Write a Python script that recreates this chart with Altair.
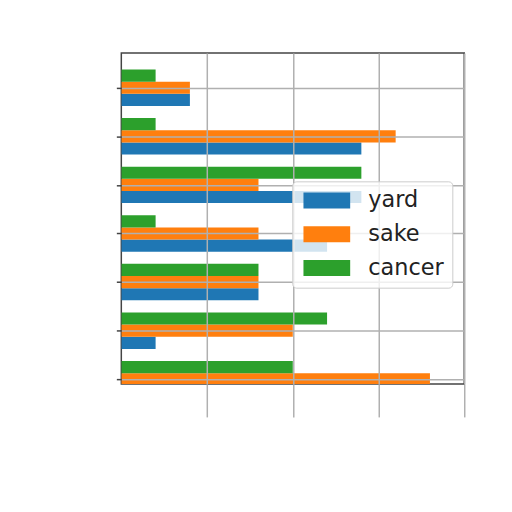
import altair as alt
import pandas as pd

# categories from bottom (0) to top (6)
categories = [0, 1, 2, 3, 4, 5, 6]
yard = [0, 2, 8, 12, 14, 14, 4]
sake = [18, 10, 8, 8, 8, 16, 4]
cancer = [10, 12, 8, 2, 14, 2, 2]
series = ["yard", "sake", "cancer"]
offsets = [-0.25, 0.0, 0.25]
colors = ["#1f77b4", "#ff7f0e", "#2ca02c"]
x_ticks = [5, 10, 15, 20]

rows = []
for name, off, vals in zip(series, offsets, [yard, sake, cancer]):
    for c, v in zip(categories, vals):
        rows.append({"series": name, "cat": c, "off": off, "value": v})
df = pd.DataFrame(rows)

grid_color = "#b0b0b0"

chart = alt.Chart(df).transform_calculate(
    zero="0",
    y0="datum.cat + datum.off - 0.125",
    y1="datum.cat + datum.off + 0.125",
).mark_rect(clip=True).encode(
    x=alt.X("zero:Q",
            scale=alt.Scale(domain=[0, 20], nice=False),
            axis=alt.Axis(values=x_ticks, labels=False, title=None, domain=False,
                          tickSize=33, tickColor=grid_color, tickWidth=1.5,
                          grid=True, gridColor=grid_color, gridWidth=1.5, zindex=1)),
    x2="value:Q",
    y=alt.Y("y0:Q",
            scale=alt.Scale(domain=[-0.1, 6.7125], nice=False, zero=False),
            axis=alt.Axis(values=categories, labels=False, title=None, domain=False,
                          tickSize=5, tickColor="#444444", tickWidth=1.5,
                          grid=True, gridColor=grid_color, gridWidth=1.5, zindex=1)),
    y2="y1:Q",
    color=alt.Color("series:N",
                    scale=alt.Scale(domain=series, range=colors),
                    legend=alt.Legend(orient="none", legendX=172, legendY=129, title=None,
                                      symbolType="M-1,-1H4.875V1H-1Z", symbolSize=256,
                                      symbolStrokeWidth=0, symbolOpacity=1,
                                      labelFontSize=22.5, labelFont="DejaVu Sans", labelColor="#222222",
                                      labelOffset=46, padding=8, rowPadding=11,
                                      fillColor="rgba(255,255,255,0.8)", strokeColor="#cccccc",
                                      cornerRadius=4, zindex=2)),
).properties(
    width=345, height=333,
    autosize=alt.AutoSizeParams(type="none"),
    padding={"left": 114, "top": 44, "right": 40, "bottom": 80},
).configure_view(stroke="#444444", strokeWidth=1.5)

chart.save("out.html", embed_options={"renderer": "svg", "actions": False})
